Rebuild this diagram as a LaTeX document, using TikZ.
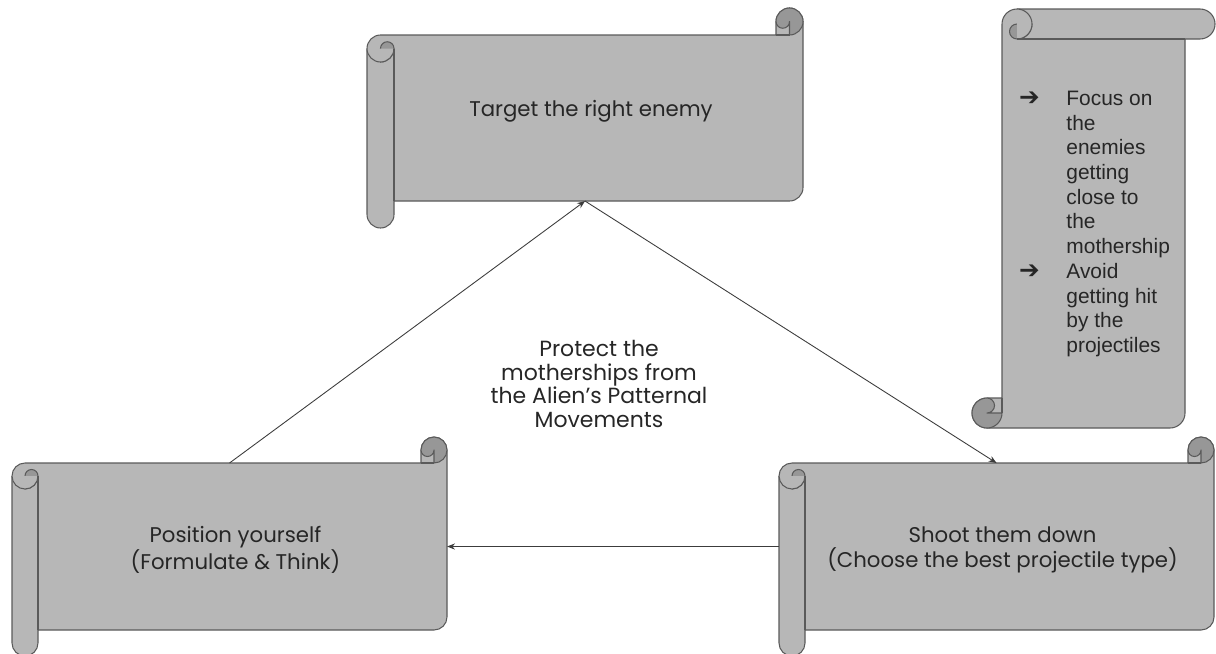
\documentclass[tikz,border=0pt]{standalone}
\usepackage{fontspec}
\setmainfont{Poppins}
\newfontfamily\tipfont{Liberation Sans}
\newfontfamily\symfont{DejaVu Sans}
\usetikzlibrary{arrows.meta}

\definecolor{scrollfill}{HTML}{B7B7B7}
\definecolor{scrolldark}{HTML}{979797}
\definecolor{scrollline}{HTML}{5A5A5A}
\definecolor{linkline}{HTML}{3C3C3C}
\definecolor{labeltext}{HTML}{262626}

% scroll: left, top, right, bottom, roll size (pixel units, y down)
\newcommand{\scrollshape}[5]{%
  \pgfmathsetmacro\rL{#1}\pgfmathsetmacro\rT{#2}%
  \pgfmathsetmacro\rR{#3}\pgfmathsetmacro\rB{#4}%
  \pgfmathsetmacro\rC{#5}\pgfmathsetmacro\rH{#5/2}\pgfmathsetmacro\rQ{#5/4}%
  \filldraw[scroll] (\rL,{\rT+\rC+\rH}) arc[start angle=180,delta angle=90,radius=\rH pt]
    -- ({\rR-\rC},{\rT+\rC}) -- ({\rR-\rC},{\rT+\rH})
    arc[start angle=180,delta angle=180,radius=\rH pt]
    -- (\rR,{\rB-\rC-\rH}) arc[start angle=0,delta angle=90,radius=\rH pt]
    -- ({\rL+\rC},{\rB-\rC}) -- ({\rL+\rC},{\rB-\rH})
    arc[start angle=0,delta angle=180,radius=\rH pt] -- cycle;
  % curls
  \filldraw[scroll,fill=scrolldark] ({\rR-\rH},{\rT+\rC})
    arc[start angle=90,delta angle=-270,radius=\rH pt]
    arc[start angle=180,delta angle=-180,radius=\rQ pt] -- cycle;
  \filldraw[scroll,fill=scrolldark] ({\rL+\rH},{\rT+2*\rC})
    arc[start angle=90,delta angle=-90,radius=\rH pt]
    arc[start angle=0,delta angle=-180,radius=\rQ pt] -- cycle;
  \draw[scroll] ({\rR-\rC},{\rT+\rC}) -- ({\rR-\rH},{\rT+\rC});
  \draw[scroll] ({\rL+\rC},{\rT+\rC+\rH}) arc[start angle=0,delta angle=180,radius=\rH pt];
  \draw[scroll] ({\rL+\rC},{\rT+\rC+\rH}) -- ({\rL+\rC},{\rB-\rC});
}

% scroll with a node on its body and its text: l, t, r, b, roll, name, text
\newcommand{\scrollnode}[7]{%
  \scrollshape{#1}{#2}{#3}{#4}{#5}
  \pgfmathsetmacro\rW{(#3-#1)*0.02}%
  \pgfmathsetmacro\rV{(#4-#2-2*#5)*0.02}%
  \node[scrollbody,minimum width=\rW cm,minimum height=\rV cm] (#6)
    at ({(#1+#3)/2},{(#2+#4)/2}) {};
  \node[scrolltext] (#6 text) at ({(#1+#3)/2+6},{(#2+#4)/2+3}) {#7};
}

\begin{document}
\begin{tikzpicture}[x=1pt,y=1pt,scale=0.5690551,yscale=-1,inner sep=0pt,outer sep=0pt,
scroll/.style={fill=scrollfill,draw=scrollline,line width=0.6pt,line join=round},
scrollbody/.style={rectangle},
scrolltext/.style={align=center,text=labeltext,font=\fontsize{12.1}{14.2}\selectfont},
link/.style={draw=linkline,line width=0.5pt,>={Stealth[length=4.5pt,width=3.5pt]}}]

\useasboundingbox (0,0) rectangle (1216,653);

\scrollnode{367}{8}{803}{228}{27}{target}{Target the right enemy\\~}
\scrollnode{12}{437}{447}{656}{26}{position}{Position yourself\\(Formulate \& Think)}
\scrollnode{779}{437}{1214}{656}{26}{shoot}{Shoot them down\\(Choose the best projectile type)}

% tips scroll, standing upright
\begin{scope}[cm={0,1,1,0,(0,0)}]
  \scrollshape{9}{972}{428}{1215}{30}
\end{scope}

\node[anchor=base west,text=labeltext,font=\tipfont\fontsize{11.9}{14.05}\selectfont] (tips) at (1019,105.5)
  {\begin{tabular}[t]{@{}p{27pt}@{}l@{}}
  {\symfont\fontsize{14}{10}\selectfont ➔} & Focus on\\
   & the\\
   & enemies\\
   & getting\\
   & close to\\
   & the\\
   & mothership\\
  {\symfont\fontsize{14}{10}\selectfont ➔} & Avoid\\
   & getting hit\\
   & by the\\
   & projectiles
  \end{tabular}};

\node[scrolltext,font=\fontsize{12.5}{13.3}\selectfont] (goal) at (599,384) {Protect the\\motherships from\\the Alien’s Patternal\\Movements};

\draw[link,->] (position.north) -- (target.south);
\draw[link,->] (target.south) -- (shoot.north);
\draw[link,->] (shoot.west) -- (position.east);
\end{tikzpicture}
\end{document}
